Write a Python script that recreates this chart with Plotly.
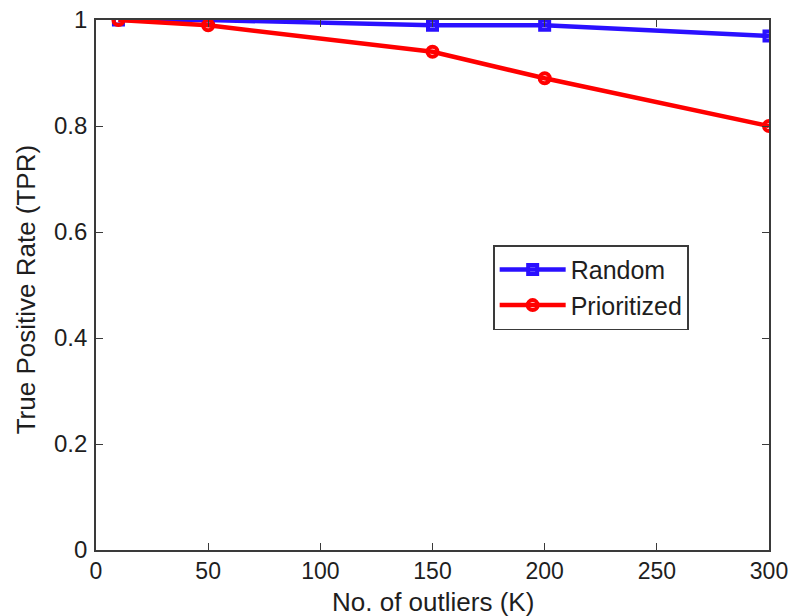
import plotly.graph_objects as go

# Number of outliers K and the resulting true positive rates
k_values = [10, 50, 150, 200, 300]
tpr_random = [1.0, 1.0, 0.99, 0.99, 0.97]
tpr_prioritized = [1.0, 0.99, 0.94, 0.89, 0.80]

x_ticks = [0, 50, 100, 150, 200, 250, 300]
y_ticks = [0, 0.2, 0.4, 0.6, 0.8, 1]
y_tick_text = ["0", "0.2", "0.4", "0.6", "0.8", "1"]

x_title = "No. of outliers (K)"
y_title = "True Positive Rate (TPR)"

font_family = "Liberation Sans, Arial, Helvetica, sans-serif"
axis_color = "#3a3a3a"
text_color = "#1e1e1e"
blue = "#2a10ff"
red = "#ff0000"

fig = go.Figure()
fig.add_trace(go.Scatter(
    x=k_values, y=tpr_random, name="Random", mode="lines+markers",
    line=dict(color=blue, width=4.5),
    marker=dict(symbol="square-open", size=9, line=dict(color=blue, width=4)),
))
fig.add_trace(go.Scatter(
    x=k_values, y=tpr_prioritized, name="Prioritized", mode="lines+markers",
    line=dict(color=red, width=4.5),
    marker=dict(symbol="circle-open", size=10, line=dict(color=red, width=4)),
))

axis_common = dict(
    showgrid=False, zeroline=False, showline=True, linecolor=axis_color, linewidth=1.6,
    mirror="ticks", ticks="inside", ticklen=7, tickwidth=1.2, tickcolor=axis_color,
    automargin=False,
)

fig.update_layout(
    width=792, height=616,
    margin=dict(l=96, r=23, t=20, b=66),
    paper_bgcolor="white", plot_bgcolor="white",
    font=dict(family=font_family, color=text_color),
    xaxis=dict(range=[0, 300], tickvals=x_ticks, ticklabelstandoff=0,
               tickfont=dict(family=font_family, size=23, color=text_color),
               **axis_common),
    yaxis=dict(range=[0, 1], tickvals=y_ticks, ticktext=y_tick_text,
               ticklabelstandoff=2,
               tickfont=dict(family=font_family, size=24, color=text_color),
               **axis_common),
    legend=dict(
        x=0.59, y=0.575, xanchor="left", yanchor="top",
        bgcolor="white", bordercolor=axis_color, borderwidth=1.6,
        font=dict(family=font_family, size=25, color=text_color),
        itemwidth=66, tracegroupgap=0,
    ),
    showlegend=True,
    annotations=[
        dict(text=x_title, xref="paper", yref="paper", x=0.5, y=-0.099,
             xanchor="center", yanchor="middle", showarrow=False,
             font=dict(family=font_family, size=26, color=text_color)),
        dict(text=y_title, xref="paper", yref="paper", x=-0.104, y=0.49,
             xanchor="center", yanchor="middle", textangle=-90, showarrow=False,
             font=dict(family=font_family, size=26, color=text_color)),
    ],
)

fig.write_html("out.html")
